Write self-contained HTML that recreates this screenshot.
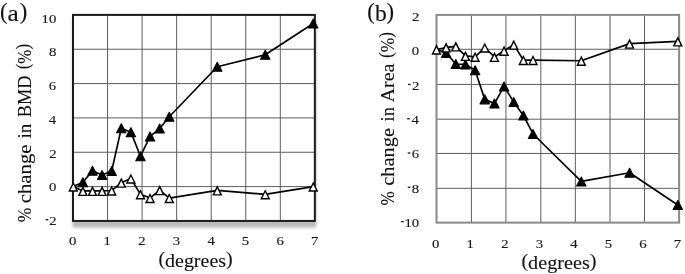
<!DOCTYPE html>
<html><head><meta charset="utf-8"><style>
html,body{margin:0;padding:0;background:#fff;}
svg{display:block;will-change:transform;}
text{font-family:"Liberation Serif",serif;fill:#111;font-kerning:none;}
.n{font-size:13.4px;fill:#1a1a1a;stroke:#1a1a1a;stroke-width:0.15px;}
.t{font-size:18.2px;stroke:#111;stroke-width:0.1px;}
</style></head><body>
<svg width="685" height="274" viewBox="0 0 685 274">
<defs><filter id="sh" x="-10%" y="-10%" width="120%" height="120%"><feGaussianBlur stdDeviation="1.5"/></filter></defs>
<rect x="72.6" y="20" width="243.60" height="207.60" fill="#000" fill-opacity="0.27" filter="url(#sh)"/><rect x="73.00" y="14.90" width="241.85" height="206.04" fill="#fff"/><line x1="107.55" y1="14.90" x2="107.55" y2="220.94" stroke="#5e5e5e" stroke-width="1.0"/>
<line x1="142.10" y1="14.90" x2="142.10" y2="220.94" stroke="#5e5e5e" stroke-width="1.0"/>
<line x1="176.65" y1="14.90" x2="176.65" y2="220.94" stroke="#5e5e5e" stroke-width="1.0"/>
<line x1="211.20" y1="14.90" x2="211.20" y2="220.94" stroke="#5e5e5e" stroke-width="1.0"/>
<line x1="245.75" y1="14.90" x2="245.75" y2="220.94" stroke="#5e5e5e" stroke-width="1.0"/>
<line x1="280.30" y1="14.90" x2="280.30" y2="220.94" stroke="#5e5e5e" stroke-width="1.0"/>
<line x1="73.00" y1="186.60" x2="314.85" y2="186.60" stroke="#5e5e5e" stroke-width="1.0"/>
<line x1="73.00" y1="152.26" x2="314.85" y2="152.26" stroke="#5e5e5e" stroke-width="1.0"/>
<line x1="73.00" y1="117.92" x2="314.85" y2="117.92" stroke="#5e5e5e" stroke-width="1.0"/>
<line x1="73.00" y1="83.58" x2="314.85" y2="83.58" stroke="#5e5e5e" stroke-width="1.0"/>
<line x1="73.00" y1="49.24" x2="314.85" y2="49.24" stroke="#5e5e5e" stroke-width="1.0"/>
<rect x="73.00" y="14.90" width="241.85" height="206.04" fill="none" stroke="#1a1a1a" stroke-width="2"/><path d="M73.30,186.60 L82.90,182.31 L92.49,170.80 L102.09,174.92 L111.69,170.98 L121.29,128.22 L130.88,132.17 L140.48,156.21 L150.08,136.46 L159.68,128.57 L169.27,116.72 L217.26,66.75 L265.24,54.73 L313.23,23.48" fill="none" stroke="#000" stroke-width="1.65" stroke-linejoin="round"/>
<path d="M82.90,177.81 L87.60,186.81 L78.20,186.81 Z M92.49,166.30 L97.19,175.30 L87.79,175.30 Z M102.09,170.42 L106.79,179.42 L97.39,179.42 Z M111.69,166.48 L116.39,175.48 L106.99,175.48 Z M121.29,123.72 L125.99,132.72 L116.59,132.72 Z M130.88,127.67 L135.58,136.67 L126.18,136.67 Z M140.48,151.71 L145.18,160.71 L135.78,160.71 Z M150.08,131.96 L154.78,140.96 L145.38,140.96 Z M159.68,124.07 L164.38,133.07 L154.98,133.07 Z M169.27,112.22 L173.97,121.22 L164.57,121.22 Z M217.26,62.25 L221.96,71.25 L212.56,71.25 Z M265.24,50.23 L269.94,59.23 L260.54,59.23 Z M313.23,18.98 L317.93,27.98 L308.53,27.98 Z" fill="#000" stroke="#000" stroke-width="1.1" stroke-linejoin="round"/>
<path d="M73.30,186.60 L82.90,190.89 L92.49,190.89 L102.09,190.89 L111.69,190.55 L121.29,182.65 L130.88,178.53 L140.48,194.33 L150.08,198.10 L159.68,190.21 L169.27,198.10 L217.26,190.38 L265.24,194.33 L313.23,186.60" fill="none" stroke="#000" stroke-width="1.65" stroke-linejoin="round"/>
<path d="M73.30,181.45 L78.40,191.75 L68.20,191.75 Z" fill="#000"/><path d="M73.30,184.61 L76.14,190.35 L70.46,190.35 Z" fill="#fff"/><path d="M82.90,185.74 L88.00,196.04 L77.80,196.04 Z" fill="#000"/><path d="M82.90,188.90 L85.74,194.64 L80.05,194.64 Z" fill="#fff"/><path d="M92.49,185.74 L97.59,196.04 L87.39,196.04 Z" fill="#000"/><path d="M92.49,188.90 L95.34,194.64 L89.65,194.64 Z" fill="#fff"/><path d="M102.09,185.74 L107.19,196.04 L96.99,196.04 Z" fill="#000"/><path d="M102.09,188.90 L104.94,194.64 L99.25,194.64 Z" fill="#fff"/><path d="M111.69,185.40 L116.79,195.70 L106.59,195.70 Z" fill="#000"/><path d="M111.69,188.55 L114.53,194.30 L108.84,194.30 Z" fill="#fff"/><path d="M121.29,177.50 L126.39,187.80 L116.19,187.80 Z" fill="#000"/><path d="M121.29,180.66 L124.13,186.40 L118.44,186.40 Z" fill="#fff"/><path d="M130.88,173.38 L135.98,183.68 L125.78,183.68 Z" fill="#000"/><path d="M130.88,176.54 L133.73,182.28 L128.04,182.28 Z" fill="#fff"/><path d="M140.48,189.18 L145.58,199.48 L135.38,199.48 Z" fill="#000"/><path d="M140.48,192.33 L143.33,198.08 L137.64,198.08 Z" fill="#fff"/><path d="M150.08,192.95 L155.18,203.25 L144.98,203.25 Z" fill="#000"/><path d="M150.08,196.11 L152.92,201.85 L147.23,201.85 Z" fill="#fff"/><path d="M159.68,185.06 L164.78,195.36 L154.58,195.36 Z" fill="#000"/><path d="M159.68,188.21 L162.52,193.96 L156.83,193.96 Z" fill="#fff"/><path d="M169.27,192.95 L174.37,203.25 L164.17,203.25 Z" fill="#000"/><path d="M169.27,196.11 L172.12,201.85 L166.43,201.85 Z" fill="#fff"/><path d="M217.26,185.23 L222.36,195.53 L212.16,195.53 Z" fill="#000"/><path d="M217.26,188.38 L220.10,194.13 L214.41,194.13 Z" fill="#fff"/><path d="M265.24,189.18 L270.34,199.48 L260.14,199.48 Z" fill="#000"/><path d="M265.24,192.33 L268.09,198.08 L262.40,198.08 Z" fill="#fff"/><path d="M313.23,181.45 L318.33,191.75 L308.13,191.75 Z" fill="#000"/><path d="M313.23,184.61 L316.08,190.35 L310.39,190.35 Z" fill="#fff"/>
<line x1="471.40" y1="14.90" x2="471.40" y2="222.62" stroke="#5e5e5e" stroke-width="1.0"/>
<line x1="505.95" y1="14.90" x2="505.95" y2="222.62" stroke="#5e5e5e" stroke-width="1.0"/>
<line x1="540.80" y1="14.90" x2="540.80" y2="222.62" stroke="#5e5e5e" stroke-width="1.0"/>
<line x1="575.35" y1="14.90" x2="575.35" y2="222.62" stroke="#5e5e5e" stroke-width="1.0"/>
<line x1="610.00" y1="14.90" x2="610.00" y2="222.62" stroke="#5e5e5e" stroke-width="1.0"/>
<line x1="644.50" y1="14.90" x2="644.50" y2="222.62" stroke="#5e5e5e" stroke-width="1.0"/>
<line x1="436.50" y1="188.30" x2="679.12" y2="188.30" stroke="#5e5e5e" stroke-width="1.0"/>
<line x1="436.50" y1="153.45" x2="679.12" y2="153.45" stroke="#5e5e5e" stroke-width="1.0"/>
<line x1="436.50" y1="119.20" x2="679.12" y2="119.20" stroke="#5e5e5e" stroke-width="1.0"/>
<line x1="436.50" y1="84.45" x2="679.12" y2="84.45" stroke="#5e5e5e" stroke-width="1.0"/>
<line x1="436.50" y1="49.25" x2="679.12" y2="49.25" stroke="#5e5e5e" stroke-width="1.0"/>
<rect x="436.50" y="14.90" width="242.62" height="207.72" fill="none" stroke="#8a8a8a" stroke-width="2"/><path d="M436.50,49.52 L446.15,52.98 L455.81,64.06 L465.46,64.41 L475.11,70.29 L484.76,99.37 L494.42,103.53 L504.07,86.39 L513.72,101.97 L523.38,115.47 L533.03,133.99 L581.29,181.42 L629.56,172.77 L677.82,204.96" fill="none" stroke="#000" stroke-width="1.65" stroke-linejoin="round"/>
<path d="M446.15,48.48 L450.85,57.48 L441.45,57.48 Z M455.81,59.56 L460.51,68.56 L451.11,68.56 Z M465.46,59.91 L470.16,68.91 L460.76,68.91 Z M475.11,65.79 L479.81,74.79 L470.41,74.79 Z M484.76,94.87 L489.46,103.87 L480.06,103.87 Z M494.42,99.03 L499.12,108.03 L489.72,108.03 Z M504.07,81.89 L508.77,90.89 L499.37,90.89 Z M513.72,97.47 L518.42,106.47 L509.02,106.47 Z M523.38,110.97 L528.08,119.97 L518.67,119.97 Z M533.03,129.49 L537.73,138.49 L528.33,138.49 Z M581.29,176.92 L585.99,185.92 L576.59,185.92 Z M629.56,168.27 L634.26,177.27 L624.86,177.27 Z M677.82,200.46 L682.52,209.46 L673.12,209.46 Z" fill="#000" stroke="#000" stroke-width="1.1" stroke-linejoin="round"/>
<path d="M436.50,49.52 L446.15,47.44 L455.81,46.40 L465.46,55.92 L475.11,56.79 L484.76,47.62 L494.42,56.96 L504.07,50.73 L513.72,44.67 L523.38,60.08 L533.03,60.08 L581.29,60.77 L629.56,43.63 L677.82,41.38" fill="none" stroke="#000" stroke-width="1.65" stroke-linejoin="round"/>
<path d="M436.50,44.37 L441.60,54.67 L431.40,54.67 Z" fill="#000"/><path d="M436.50,47.53 L439.34,53.27 L433.66,53.27 Z" fill="#fff"/><path d="M446.15,42.29 L451.25,52.59 L441.05,52.59 Z" fill="#000"/><path d="M446.15,45.45 L449.00,51.19 L443.31,51.19 Z" fill="#fff"/><path d="M455.81,41.25 L460.91,51.55 L450.71,51.55 Z" fill="#000"/><path d="M455.81,44.41 L458.65,50.15 L452.96,50.15 Z" fill="#fff"/><path d="M465.46,50.77 L470.56,61.07 L460.36,61.07 Z" fill="#000"/><path d="M465.46,53.93 L468.30,59.67 L462.61,59.67 Z" fill="#fff"/><path d="M475.11,51.64 L480.21,61.94 L470.01,61.94 Z" fill="#000"/><path d="M475.11,54.80 L477.96,60.54 L472.27,60.54 Z" fill="#fff"/><path d="M484.76,42.47 L489.86,52.77 L479.66,52.77 Z" fill="#000"/><path d="M484.76,45.62 L487.61,51.37 L481.92,51.37 Z" fill="#fff"/><path d="M494.42,51.81 L499.52,62.11 L489.32,62.11 Z" fill="#000"/><path d="M494.42,54.97 L497.26,60.71 L491.57,60.71 Z" fill="#fff"/><path d="M504.07,45.58 L509.17,55.88 L498.97,55.88 Z" fill="#000"/><path d="M504.07,48.74 L506.91,54.48 L501.22,54.48 Z" fill="#fff"/><path d="M513.72,39.52 L518.82,49.82 L508.62,49.82 Z" fill="#000"/><path d="M513.72,42.68 L516.57,48.42 L510.88,48.42 Z" fill="#fff"/><path d="M523.38,54.93 L528.48,65.23 L518.27,65.23 Z" fill="#000"/><path d="M523.38,58.08 L526.22,63.83 L520.53,63.83 Z" fill="#fff"/><path d="M533.03,54.93 L538.13,65.23 L527.93,65.23 Z" fill="#000"/><path d="M533.03,58.08 L535.87,63.83 L530.18,63.83 Z" fill="#fff"/><path d="M581.29,55.62 L586.39,65.92 L576.19,65.92 Z" fill="#000"/><path d="M581.29,58.78 L584.14,64.52 L578.45,64.52 Z" fill="#fff"/><path d="M629.56,38.48 L634.66,48.78 L624.46,48.78 Z" fill="#000"/><path d="M629.56,41.64 L632.40,47.38 L626.71,47.38 Z" fill="#fff"/><path d="M677.82,36.23 L682.92,46.53 L672.72,46.53 Z" fill="#000"/><path d="M677.82,39.39 L680.66,45.13 L674.97,45.13 Z" fill="#fff"/>

<text transform="translate(49.24,224.88) scale(1.1,1)" class="n">2</text><rect x="45.69" y="219.00" width="2.6" height="1.35" fill="#1a1a1a"/><text transform="translate(48.99,191.20) scale(1.1,1)" class="n">0</text><text transform="translate(49.24,157.52) scale(1.1,1)" class="n">2</text><text transform="translate(48.67,123.84) scale(1.1,1)" class="n">4</text><text transform="translate(48.87,90.16) scale(1.1,1)" class="n">6</text><text transform="translate(48.99,56.48) scale(1.1,1)" class="n">8</text><text transform="translate(41.62,22.80) scale(1.1,1)" class="n">10</text><text transform="translate(404.42,226.88) scale(1.1,1)" class="n">10</text><rect x="401.12" y="220.90" width="2.6" height="1.35" fill="#1a1a1a"/><text transform="translate(411.79,192.60) scale(1.1,1)" class="n">8</text><rect x="407.75" y="186.62" width="2.6" height="1.35" fill="#1a1a1a"/><text transform="translate(411.67,158.32) scale(1.1,1)" class="n">6</text><rect x="407.71" y="152.34" width="2.6" height="1.35" fill="#1a1a1a"/><text transform="translate(411.47,124.04) scale(1.1,1)" class="n">4</text><rect x="407.16" y="118.07" width="2.6" height="1.35" fill="#1a1a1a"/><text transform="translate(412.04,89.76) scale(1.1,1)" class="n">2</text><rect x="408.09" y="83.79" width="2.6" height="1.35" fill="#1a1a1a"/><text transform="translate(411.79,55.48) scale(1.1,1)" class="n">0</text><text transform="translate(412.04,21.20) scale(1.1,1)" class="n">2</text><text transform="translate(69.06,245.10) scale(1.1,1)" class="n">0</text><text transform="translate(432.01,247.90) scale(1.1,1)" class="n">0</text><text transform="translate(103.45,245.10) scale(1.1,1)" class="n">1</text><text transform="translate(466.38,247.90) scale(1.1,1)" class="n">1</text><text transform="translate(138.33,245.10) scale(1.1,1)" class="n">2</text><text transform="translate(501.24,247.90) scale(1.1,1)" class="n">2</text><text transform="translate(172.77,245.10) scale(1.1,1)" class="n">3</text><text transform="translate(535.66,247.90) scale(1.1,1)" class="n">3</text><text transform="translate(207.40,245.10) scale(1.1,1)" class="n">4</text><text transform="translate(570.27,247.90) scale(1.1,1)" class="n">4</text><text transform="translate(241.87,245.10) scale(1.1,1)" class="n">5</text><text transform="translate(604.72,247.90) scale(1.1,1)" class="n">5</text><text transform="translate(276.51,245.10) scale(1.1,1)" class="n">6</text><text transform="translate(639.34,247.90) scale(1.1,1)" class="n">6</text><text transform="translate(310.92,245.10) scale(1.1,1)" class="n">7</text><text transform="translate(673.73,247.90) scale(1.1,1)" class="n">7</text><text transform="translate(30.90,222.20) rotate(-90)" class="t" textLength="14.60" lengthAdjust="spacingAndGlyphs">%</text><text transform="translate(30.90,203.29) rotate(-90)" class="t" textLength="58.81" lengthAdjust="spacingAndGlyphs">change</text><text transform="translate(30.90,138.50) rotate(-90)" class="t" textLength="14.79" lengthAdjust="spacingAndGlyphs">in</text><text transform="translate(30.90,117.33) rotate(-90)" class="t" textLength="41.76" lengthAdjust="spacingAndGlyphs">BMD</text><text transform="translate(30.90,69.24) rotate(-90)" class="t" textLength="25.28" lengthAdjust="spacingAndGlyphs"><tspan dy="-1.6">(</tspan><tspan dy="1.6">%</tspan><tspan dy="-1.6">)</tspan></text><text transform="translate(393.60,205.38) rotate(-90)" class="t" textLength="14.16" lengthAdjust="spacingAndGlyphs">%</text><text transform="translate(393.60,185.78) rotate(-90)" class="t" textLength="57.78" lengthAdjust="spacingAndGlyphs">change</text><text transform="translate(393.60,121.38) rotate(-90)" class="t" textLength="14.26" lengthAdjust="spacingAndGlyphs">in</text><text transform="translate(393.60,102.60) rotate(-90)" class="t" textLength="39.17" lengthAdjust="spacingAndGlyphs">Area</text><text transform="translate(393.60,58.06) rotate(-90)" class="t" textLength="26.03" lengthAdjust="spacingAndGlyphs"><tspan dy="-1.6">(</tspan><tspan dy="1.6">%</tspan><tspan dy="-1.6">)</tspan></text><text x="158.42" y="266.60" class="t" textLength="74.25" lengthAdjust="spacingAndGlyphs"><tspan dy="-1.6">(</tspan><tspan dy="1.6">degrees</tspan><tspan dy="-1.6">)</tspan></text><text x="521.41" y="268.90" class="t" textLength="75.07" lengthAdjust="spacingAndGlyphs"><tspan dy="-1.6">(</tspan><tspan dy="1.6">degrees</tspan><tspan dy="-1.6">)</tspan></text><text transform="translate(0.00,18.55) scale(1.0,1)" style="font-size:22.6px;stroke:#111;stroke-width:0.15px">(</text><text transform="translate(7.60,21.17) scale(1.1,1)" style="font-size:23px;stroke:#111;stroke-width:0.15px">a</text><text transform="translate(19.66,18.55) scale(1.0,1)" style="font-size:22.6px;stroke:#111;stroke-width:0.15px">)</text><text transform="translate(367.30,18.55) scale(1.0,1)" style="font-size:22.6px;stroke:#111;stroke-width:0.15px">(</text><text transform="translate(374.90,21.13) scale(1.0,1)" style="font-size:23.6px;stroke:#111;stroke-width:0.15px">b</text><text transform="translate(386.58,18.55) scale(1.0,1)" style="font-size:22.6px;stroke:#111;stroke-width:0.15px">)</text>
</svg>
</body></html>
